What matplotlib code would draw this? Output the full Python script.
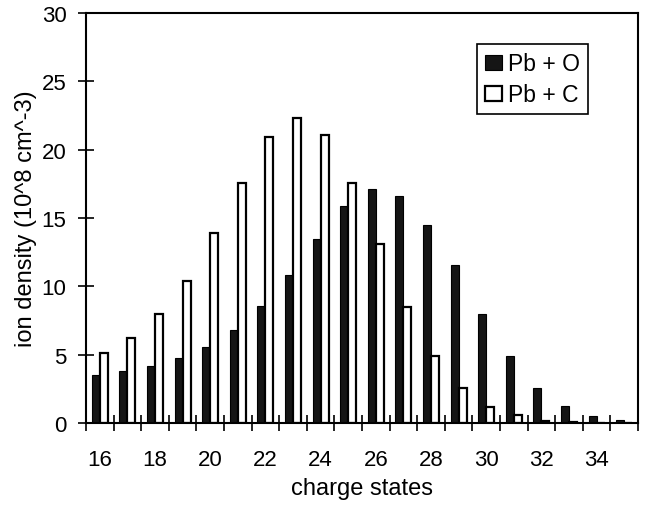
import numpy as np
import matplotlib
matplotlib.use("Agg")
import matplotlib.pyplot as plt

plt.rcParams['font.family'] = ['Liberation Sans', 'DejaVu Sans']

# charge states and ion densities (10^8 cm^-3)
charge = np.arange(16, 36)
pb_o = [3.55, 3.8, 4.2, 4.75, 5.55, 6.8, 8.55, 10.85, 13.5, 15.9,
        17.1, 16.6, 14.5, 11.6, 8.0, 4.9, 2.6, 1.25, 0.5, 0.2]
pb_c = [5.1, 6.2, 8.0, 10.4, 13.9, 17.6, 20.9, 22.3, 21.1, 17.55,
        13.1, 8.5, 4.9, 2.6, 1.2, 0.58, 0.15, 0.05, 0.0, 0.0]

fig = plt.figure(figsize=(6.45, 5.06), dpi=100)
ax = fig.add_axes([0.1333, 0.162, 0.856, 0.810])

w = 0.29
ax.bar(charge - w / 2, pb_o, w, color='#151515', edgecolor='black', linewidth=0.8, label='Pb + O')
ax.bar(charge + w / 2, pb_c, w, color='white', edgecolor='black', linewidth=1.6, label='Pb + C')

ax.set_xlim(15.5, 35.5)
ax.set_ylim(0, 30)
ax.set_yticks(np.arange(0, 31, 5))
ax.set_xticks(np.arange(16, 35, 2))
ax.set_xticks(np.arange(15.5, 36, 1), minor=True)
ax.tick_params(axis='x', which='major', length=0, pad=19, labelsize=16)
ax.tick_params(axis='x', which='minor', direction='inout', length=11, width=1.2)
ax.tick_params(axis='y', direction='inout', length=12, width=1.2, labelsize=16, pad=8)

for s in ax.spines.values():
    s.set_linewidth(1.5)

ax.set_xlabel('charge states', fontsize=17, labelpad=5)
ax.set_ylabel('ion density (10^8 cm^-3)', fontsize=17, labelpad=3)

leg = ax.legend(loc='upper right', bbox_to_anchor=(0.909, 0.924), borderaxespad=0,
                fontsize=16.5, handlelength=0.75, handleheight=0.6, handletextpad=0.25,
                borderpad=0.35, labelspacing=0.35, fancybox=False, framealpha=1)
leg.get_frame().set_edgecolor('black')
leg.get_frame().set_linewidth(1.2)

fig.savefig('out.png', dpi=100)
